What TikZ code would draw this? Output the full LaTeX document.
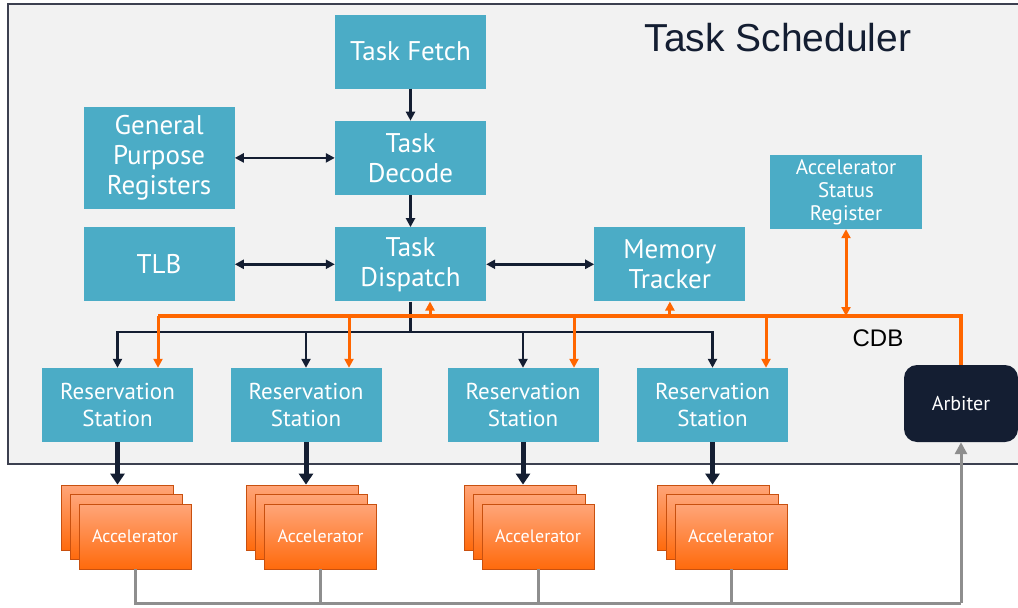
\documentclass[tikz,border=0pt]{standalone}
\usepackage{fontspec}
\setmainfont{PT Sans}
\newfontfamily\headfont{Liberation Sans}
\usepackage{xcolor}
\usetikzlibrary{positioning}
\usetikzlibrary{arrows.meta}

\definecolor{boxteal}{HTML}{4BACC6}
\definecolor{navy}{HTML}{141E32}
\definecolor{busorange}{HTML}{FF6600}
\definecolor{framefill}{HTML}{F2F2F2}
\definecolor{frameline}{HTML}{3C4050}
\definecolor{accline}{HTML}{C8500F}
\definecolor{acctop}{HTML}{FFA579}
\definecolor{accbot}{HTML}{FF6A0C}
\definecolor{busgray}{HTML}{8E8E8E}

\tikzset{
	blk/.style={fill=boxteal, text=white, inner sep=0pt, align=center, minimum width=151pt, minimum height=74pt, font=\fontsize{27}{30}\selectfont},
	rsblk/.style={blk, font=\fontsize{23}{27}\selectfont},
	accel/.style={draw=accline, line width=0.8pt, top color=acctop, bottom color=accbot, text=white, minimum width=112pt, minimum height=65pt, inner sep=0pt, font=\fontsize{18}{20}\selectfont},
	darr/.style={draw=navy, line width=2.6pt, -{Triangle[length=9pt,width=9pt]}},
	ddarr/.style={draw=navy, line width=2.6pt, {Triangle[length=9pt,width=9pt]}-{Triangle[length=9pt,width=9pt]}},
	fatarr/.style={draw=navy, line width=5pt, -{Triangle[length=11pt,width=14pt]}},
	obus/.style={draw=busorange, line width=4pt},
	oarr/.style={draw=busorange, line width=3pt, -{Triangle[length=9pt,width=9pt]}},
	odarr/.style={draw=busorange, line width=3pt, {Triangle[length=9pt,width=9pt]}-{Triangle[length=9pt,width=9pt]}},
	gline/.style={draw=busgray, line width=3pt},
	garr/.style={draw=busgray, line width=3pt, -{Triangle[length=12pt,width=12pt]}}
}

\begin{document}
\begin{tikzpicture}[x=1pt, y=-1pt]
	\useasboundingbox (0,0) rectangle (1018,608);
	% scheduler frame
	\draw[draw=frameline, fill=framefill, line width=2pt] (8,4) rectangle (1040,464);
	\node[text=navy, font=\headfont\fontsize{39}{44}\selectfont] (title) at (778,38) {Task Scheduler};

	\node[blk] (fetch) at (410.5,51.5) {Task Fetch};
	\node[blk, below=32pt of fetch] (decode) {Task\\Decode};
	\node[blk, below=32pt of decode] (dispatch) {Task\\Dispatch};
	\node[blk, minimum height=102pt, left=100pt of decode] (gpr) {General\\Purpose\\Registers};
	\node[blk, left=100pt of dispatch] (tlb) {TLB};
	\node[blk, right=108pt of dispatch] (mem) {Memory\\Tracker};
	\node[blk, minimum width=152pt, font=\fontsize{21}{23}\selectfont] (asr) at (846,192) {Accelerator\\Status\\Register};

	\node[rsblk] (rs1) at (117.5,405) {Reservation\\Station};
	\node[rsblk] (rs2) at (306,405) {Reservation\\Station};
	\node[rsblk] (rs3) at (523,405) {Reservation\\Station};
	\node[rsblk] (rs4) at (712.5,405) {Reservation\\Station};
	\node[fill=navy, text=white, rounded corners=13pt, minimum width=114pt, minimum height=77pt, font=\fontsize{20}{22}\selectfont] (arb) at (961,403.5) {Arbiter};
	\node[text=black, font=\headfont\fontsize{24}{26}\selectfont] (cdb) at (878,338) {CDB};

	% accelerator stacks
	\foreach \i/\x in {1/135,2/320.5,3/538,4/731} {
		\node[accel] (acc\i c) at (\x-18,517.5) {};
		\node[accel] (acc\i b) at (\x-9,527) {};
		\node[accel] (acc\i) at (\x,536.5) {Accelerator};
	}

	% front end
	\draw[darr] (fetch) -- (decode);
	\draw[darr] (decode) -- (dispatch);
	\draw[ddarr] (gpr) -- (decode);
	\draw[ddarr] (tlb) -- (dispatch);
	\draw[ddarr] (dispatch) -- (mem);

	% dispatch bus
	\coordinate (dbus) at (410.5,332);
	\draw[navy, line width=2.6pt] (dispatch.south) -- (dbus);
	\foreach \r in {rs1,rs2,rs3,rs4}
		\draw[darr] (dbus) -| (\r.north);

	% common data bus
	\coordinate (obusL) at (158,316);
	\coordinate (obusR) at (961,316);
	\draw[obus] (obusL) -- (obusR) -- (arb.north);
	\foreach \r/\x in {rs1/158,rs2/349,rs3/574,rs4/766} {
		\coordinate (o\r) at (\x,316);
		\draw[oarr] (o\r) -- (o\r |- \r.north);
	}
	\coordinate (odisp) at (430,316);
	\draw[oarr] (odisp) -- (odisp |- dispatch.south);
	\draw[oarr] (mem.south |- obusL) -- (mem.south);
	\draw[odarr] (asr.south |- obusL) -- (asr.south);

	% to accelerators
	\foreach \i in {1,2,3,4}
		\draw[fatarr] (rs\i.south) -- (rs\i.south |- acc\i c.north);

	% done lines back to arbiter
	\coordinate (gcorner) at (961,603);
	\foreach \i in {1,2,3,4}
		\draw[gline] (acc\i.south) |- (gcorner);
	\draw[garr] (gcorner) -- (arb.south);
\end{tikzpicture}
\end{document}
